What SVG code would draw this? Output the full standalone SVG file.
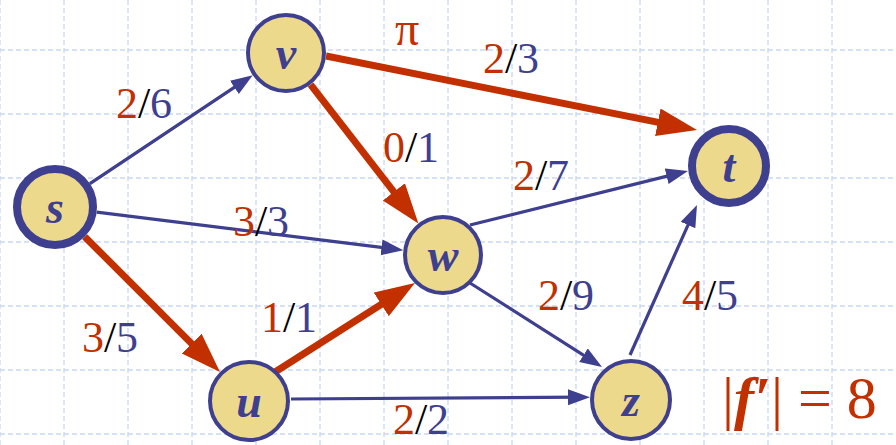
<svg xmlns="http://www.w3.org/2000/svg" width="896" height="445" viewBox="0 0 896 445">
<defs>
<style>
.grid line{stroke:#c9d6f4;stroke-width:1.3;stroke-dasharray:5,3}
.b{stroke:#3f3f8f;stroke-width:3.2;fill:none;marker-end:url(#ab)}
.r{stroke:#c23000;stroke-width:7;fill:none;marker-end:url(#ar)}
.node circle{fill:#ecd98b;stroke:#3f3f8f;stroke-width:4}
.node.thick circle{stroke-width:8}
.node text{font-family:"Liberation Serif",serif;font-style:italic;font-weight:bold;font-size:46px;fill:#3f3f8f;text-anchor:middle}
.lbl{font-family:"Liberation Serif",serif;font-size:44px;text-anchor:middle}
.n{fill:#c23000}.s{fill:#000}.d{fill:#3f3f8f}
</style>
<marker id="ab" markerUnits="userSpaceOnUse" markerWidth="24" markerHeight="18" refX="12" refY="8" orient="auto">
<path d="M0,0 L22,8 L0,16 z" fill="#3f3f8f"/>
</marker>
<marker id="ar" markerUnits="userSpaceOnUse" markerWidth="42" markerHeight="30" refX="25" refY="14" orient="auto">
<path d="M0,0 L40,14 L0,28 z" fill="#c23000"/>
</marker>
</defs>
<rect width="896" height="445" fill="#fff"/>
<g class="grid">
<line x1="0" y1="0" x2="0" y2="445"/><line x1="64" y1="0" x2="64" y2="445"/><line x1="128" y1="0" x2="128" y2="445"/><line x1="192" y1="0" x2="192" y2="445"/><line x1="256" y1="0" x2="256" y2="445"/><line x1="320" y1="0" x2="320" y2="445"/><line x1="384" y1="0" x2="384" y2="445"/><line x1="448" y1="0" x2="448" y2="445"/><line x1="512" y1="0" x2="512" y2="445"/><line x1="576" y1="0" x2="576" y2="445"/><line x1="640" y1="0" x2="640" y2="445"/><line x1="704" y1="0" x2="704" y2="445"/><line x1="768" y1="0" x2="768" y2="445"/><line x1="832" y1="0" x2="832" y2="445"/>
<line x1="0" y1="50" x2="896" y2="50"/><line x1="0" y1="114" x2="896" y2="114"/><line x1="0" y1="178" x2="896" y2="178"/><line x1="0" y1="242" x2="896" y2="242"/><line x1="0" y1="306" x2="896" y2="306"/><line x1="0" y1="370" x2="896" y2="370"/><line x1="0" y1="434" x2="896" y2="434"/>
</g>
<g id="connectors">
<path class="b" d="M89.9,183.7 L244.4,80.7"/>
<path class="b" d="M96.7,212.2 L393.4,248.9"/>
<path class="r" d="M84.7,236.7 L209.4,361.4"/>
<path class="r" d="M326,56 L682.3,127.1"/>
<path class="r" d="M310.6,84.6 L409.2,211.6"/>
<path class="b" d="M470,225 L678.3,173.4"/>
<path class="r" d="M275,372 L402.3,291"/>
<path class="b" d="M470,283 L593.6,361.6"/>
<path class="b" d="M291,399 L580,397.2"/>
<path class="b" d="M630,355 L692.9,214.1"/>
</g>
<g id="labels">
<text class="lbl" x="144" y="118"><tspan class="n">2</tspan><tspan class="s">/</tspan><tspan class="d">6</tspan></text>
<text class="lbl" x="411" y="162"><tspan class="n">0</tspan><tspan class="s">/</tspan><tspan class="d">1</tspan></text>
<text class="lbl" x="511" y="73"><tspan class="n">2</tspan><tspan class="s">/</tspan><tspan class="d">3</tspan></text>
<text class="lbl" x="541" y="190"><tspan class="n">2</tspan><tspan class="s">/</tspan><tspan class="d">7</tspan></text>
<text class="lbl" x="261" y="236"><tspan class="n">3</tspan><tspan class="s">/</tspan><tspan class="d">3</tspan></text>
<text class="lbl" x="289" y="332"><tspan class="n">1</tspan><tspan class="s">/</tspan><tspan class="d">1</tspan></text>
<text class="lbl" x="110" y="352"><tspan class="n">3</tspan><tspan class="s">/</tspan><tspan class="d">5</tspan></text>
<text class="lbl" x="566" y="310"><tspan class="n">2</tspan><tspan class="s">/</tspan><tspan class="d">9</tspan></text>
<text class="lbl" x="710" y="310"><tspan class="n">4</tspan><tspan class="s">/</tspan><tspan class="d">5</tspan></text>
<text class="lbl" x="421" y="434"><tspan class="n">2</tspan><tspan class="s">/</tspan><tspan class="d">2</tspan></text>
<text x="407" y="45" font-family="Liberation Serif,serif" font-size="48" fill="#c23000" text-anchor="middle">π</text>
<text x="722" y="418" font-family="Liberation Serif,serif" font-size="60" fill="#c23000">|<tspan font-style="italic" font-weight="bold">f′</tspan>| = 8</text>
</g>
<g id="node-s" class="node thick"><circle cx="55" cy="207" r="38"/><text x="55" y="223">s</text></g>
<g id="node-v" class="node"><circle cx="286" cy="53" r="38"/><text x="286" y="69">v</text></g>
<g id="node-t" class="node thick"><circle cx="729" cy="166" r="37"/><text x="729" y="182">t</text></g>
<g id="node-w" class="node"><circle cx="443" cy="255" r="38"/><text x="443" y="271">w</text></g>
<g id="node-u" class="node"><circle cx="249" cy="401" r="39"/><text x="249" y="417">u</text></g>
<g id="node-z" class="node"><circle cx="631" cy="400" r="39"/><text x="631" y="416">z</text></g>
</svg>
